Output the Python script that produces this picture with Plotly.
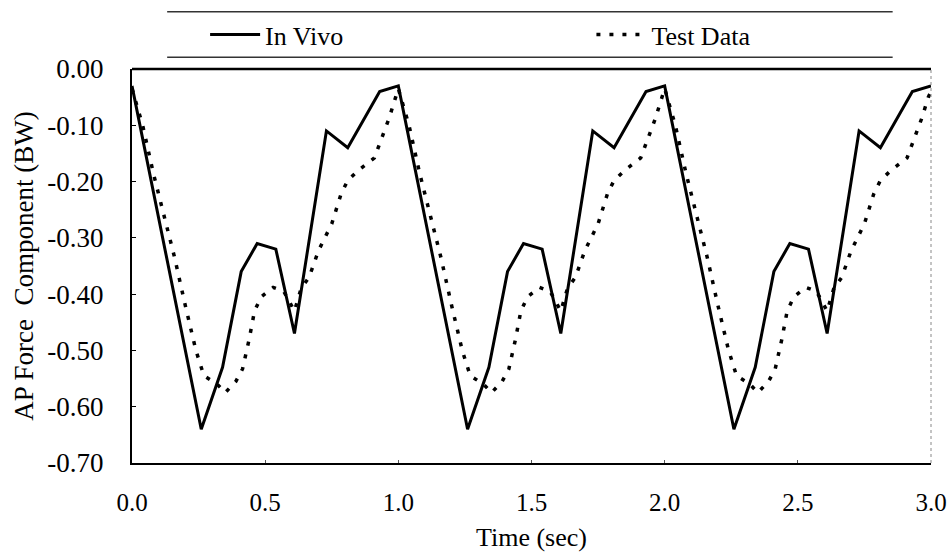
import plotly.graph_objects as go

# Anterior-posterior force, three gait cycles (time in seconds, force in body weights)
t_in_vivo = [0.00, 0.26, 0.34, 0.41, 0.47, 0.54, 0.61, 0.73, 0.81, 0.93,
             1.00, 1.26, 1.34, 1.41, 1.47, 1.54, 1.61, 1.73, 1.81, 1.93,
             2.00, 2.26, 2.34, 2.41, 2.47, 2.54, 2.61, 2.73, 2.81, 2.93, 3.00]
f_in_vivo = [-0.03, -0.64, -0.53, -0.36, -0.31, -0.32, -0.47, -0.11, -0.14, -0.04,
             -0.03, -0.64, -0.53, -0.36, -0.31, -0.32, -0.47, -0.11, -0.14, -0.04,
             -0.03, -0.64, -0.53, -0.36, -0.31, -0.32, -0.47, -0.11, -0.14, -0.04, -0.03]

t_test = [0.00, 0.04, 0.08, 0.12, 0.16, 0.20, 0.24, 0.27, 0.32, 0.35, 0.39, 0.415,
          0.44, 0.46, 0.485, 0.53, 0.57, 0.61, 0.635, 0.665, 0.70, 0.75, 0.785,
          0.81, 0.85, 0.91, 0.935, 0.965, 0.99,
          1.00, 1.04, 1.08, 1.12, 1.16, 1.20, 1.24, 1.27, 1.32, 1.35, 1.39, 1.415,
          1.44, 1.46, 1.485, 1.53, 1.57, 1.61, 1.635, 1.665, 1.70, 1.75, 1.785,
          1.81, 1.85, 1.91, 1.935, 1.965, 1.99,
          2.00, 2.04, 2.08, 2.12, 2.16, 2.20, 2.24, 2.27, 2.32, 2.35, 2.39, 2.415,
          2.44, 2.46, 2.485, 2.53, 2.57, 2.61, 2.635, 2.665, 2.70, 2.75, 2.785,
          2.81, 2.85, 2.91, 2.935, 2.965, 2.99, 3.00]
f_test = [-0.035, -0.10, -0.185, -0.26, -0.335, -0.42, -0.50, -0.545, -0.56, -0.575, -0.555, -0.533,
          -0.48, -0.43, -0.405, -0.388, -0.395, -0.43, -0.39, -0.37, -0.323, -0.275, -0.222,
          -0.198, -0.18, -0.158, -0.127, -0.088, -0.05,
          -0.035, -0.10, -0.185, -0.26, -0.335, -0.42, -0.50, -0.545, -0.56, -0.575, -0.555, -0.533,
          -0.48, -0.43, -0.405, -0.388, -0.395, -0.43, -0.39, -0.37, -0.323, -0.275, -0.222,
          -0.198, -0.18, -0.158, -0.127, -0.088, -0.05,
          -0.035, -0.10, -0.185, -0.26, -0.335, -0.42, -0.50, -0.545, -0.56, -0.575, -0.555, -0.533,
          -0.48, -0.43, -0.405, -0.388, -0.395, -0.43, -0.39, -0.37, -0.323, -0.275, -0.222,
          -0.198, -0.18, -0.158, -0.127, -0.088, -0.05, -0.04]

x_ticks = [0.0, 0.5, 1.0, 1.5, 2.0, 2.5, 3.0]
x_tick_text = ["0.0", "0.5", "1.0", "1.5", "2.0", "2.5", "3.0"]
y_ticks = [0.0, -0.1, -0.2, -0.3, -0.4, -0.5, -0.6, -0.7]
y_tick_text = ["0.00", "-0.10", "-0.20", "-0.30", "-0.40", "-0.50", "-0.60", "-0.70"]

FONT = "Liberation Serif"

fig = go.Figure()
fig.add_trace(go.Scatter(
    x=t_in_vivo, y=f_in_vivo, mode="lines", name="In Vivo", legend="legend",
    line=dict(color="black", width=3),
))
fig.add_trace(go.Scatter(
    x=t_test, y=f_test, mode="lines", name="Test Data", legend="legend2",
    line=dict(color="black", width=3.5, dash="4px,9px"),
))

legend_common = dict(
    orientation="h", yanchor="middle", xanchor="left", y=1.087,
    font=dict(family=FONT, size=26, color="black"),
    bgcolor="rgba(0,0,0,0)", itemwidth=50,
)

fig.update_layout(
    width=952, height=552,
    margin=dict(l=132, r=21, t=69, b=89, autoexpand=False),
    paper_bgcolor="white", plot_bgcolor="white",
    font=dict(family=FONT, size=22, color="black"),
    showlegend=True,
    legend=dict(x=0.0915, **legend_common),
    legend2=dict(x=0.575, **legend_common),
    xaxis=dict(
        range=[0, 3], tickvals=x_ticks, ticktext=x_tick_text,
        showgrid=False, zeroline=False,
        showline=True, linecolor="black", linewidth=2,
        ticks="inside", ticklen=3, tickcolor="#555",
        ticklabelstandoff=16,
        tickfont=dict(family=FONT, size=25),
    ),
    yaxis=dict(
        range=[-0.7, 0], tickvals=y_ticks, ticktext=y_tick_text,
        showgrid=False, zeroline=False,
        showline=True, linecolor="black", linewidth=2,
        ticks="inside", ticklen=4, tickcolor="black",
        ticklabelstandoff=21,
        tickfont=dict(family=FONT, size=27),
        title=dict(text="AP Force  Component (BW)", font=dict(family=FONT, size=27), standoff=6),
    ),
    annotations=[
        # x-axis title, set tight under the tick labels
        dict(text="Time (sec)", xref="paper", yref="paper", x=0.5, y=-0.19,
             xanchor="center", yanchor="middle", showarrow=False,
             font=dict(family=FONT, size=26, color="black")),
    ],
    shapes=[
        # top frame edge (solid) and right frame edge (faint dotted)
        dict(type="line", xref="paper", yref="paper", x0=0, x1=1, y0=1, y1=1,
             line=dict(color="black", width=2.5)),
        dict(type="line", xref="paper", yref="paper", x0=1, x1=1, y0=0, y1=1,
             line=dict(color="#888", width=1, dash="dot")),
        # rules above and below the legend
        dict(type="line", xref="paper", yref="paper", x0=0.044, x1=0.952, y0=1.145, y1=1.145,
             line=dict(color="#333", width=1.5)),
        dict(type="line", xref="paper", yref="paper", x0=0.044, x1=0.952, y0=1.03, y1=1.03,
             line=dict(color="#333", width=1.5)),
    ],
)

fig.write_html("out.html")
